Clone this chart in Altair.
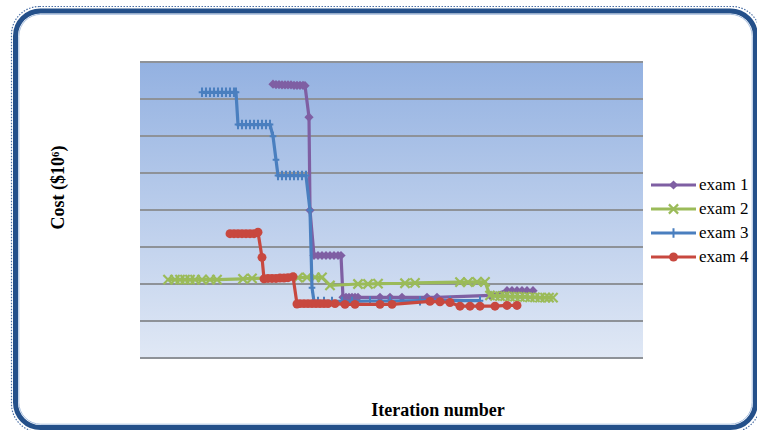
import altair as alt
import pandas as pd

# Cost (in $10^6) against iteration number for four exam runs
exam1_iter = [66.5, 68, 69.5, 71, 72.5, 74, 75.5, 77, 78.5, 80, 81.5, 82.5,
              84.5, 85,
              87, 89, 91, 93, 95, 97, 99, 100.5,
              101.5, 103, 104.5, 106, 107.5, 109, 120, 125, 131, 143.5, 148.5,
              175,
              183.5, 186, 188.5, 191, 193.5, 196.5]
exam1_cost = [7.40, 7.39, 7.39, 7.38, 7.38, 7.38, 7.38, 7.37, 7.37, 7.37, 7.37, 7.36,
              6.51, 3.99,
              2.77, 2.77, 2.77, 2.77, 2.77, 2.77, 2.77, 2.77,
              1.64, 1.64, 1.64, 1.64, 1.64, 1.64, 1.64, 1.64, 1.64, 1.64, 1.64,
              1.69,
              1.82, 1.82, 1.82, 1.82, 1.82, 1.82]

exam2_iter = [14, 17.5, 20, 22.5, 25, 27.5, 31, 35, 38.5,
              51.5, 56,
              79, 83.5, 87.5, 91,
              95,
              109, 114, 119,
              132.5, 137.5,
              160, 164, 168.5, 172.5,
              175,
              177.5, 180, 182.5, 185, 187.5, 190, 192.5, 195, 197.5, 200, 202.5, 204.5, 206.5]
exam2_cost = [2.12, 2.12, 2.12, 2.12, 2.12, 2.12, 2.12, 2.12, 2.12,
              2.14, 2.15,
              2.17, 2.18, 2.18, 2.18,
              1.96,
              2.00, 2.00, 2.01,
              2.02, 2.03,
              2.05, 2.05, 2.06, 2.06,
              1.69,
              1.68, 1.67, 1.67, 1.66, 1.66, 1.65, 1.65, 1.64, 1.64, 1.63, 1.63, 1.63, 1.63]

exam3_iter = [31, 33, 35, 37, 39, 41, 43, 45, 47, 48,
              49, 51, 53, 55, 57, 59, 61, 63, 65,
              66.5, 68,
              69, 71, 73, 75, 77, 79, 81, 83,
              85, 86, 87,
              89, 92, 96, 101, 106, 115, 125, 140, 155, 170]
exam3_cost = [7.18, 7.18, 7.18, 7.18, 7.18, 7.18, 7.18, 7.18, 7.18, 7.18,
              6.31, 6.31, 6.31, 6.31, 6.31, 6.31, 6.31, 6.31, 6.31,
              5.99, 5.36,
              4.93, 4.93, 4.93, 4.93, 4.93, 4.93, 4.93, 4.93,
              3.99, 1.90, 1.53,
              1.53, 1.53, 1.53, 1.53, 1.53, 1.54, 1.54, 1.55, 1.55, 1.55]

exam4_iter = [45, 47, 49, 51, 53, 55, 57, 59,
              61,
              62, 64, 66, 68, 70, 72, 74, 76.5,
              78.5, 80, 82, 84, 86, 88, 90, 92, 94, 97.5,
              102.5, 107.5, 120, 126,
              145, 150, 155, 160, 165, 170, 177.5, 183.5, 188.5]
exam4_cost = [3.36, 3.36, 3.36, 3.36, 3.36, 3.36, 3.36, 3.40,
              2.72,
              2.14, 2.15, 2.15, 2.15, 2.16, 2.16, 2.17, 2.20,
              1.46, 1.47, 1.47, 1.47, 1.47, 1.47, 1.47, 1.47, 1.47, 1.47,
              1.45, 1.45, 1.45, 1.45,
              1.53, 1.52, 1.50, 1.40, 1.40, 1.40, 1.40, 1.42, 1.42]

series_names = ["exam 1", "exam 2", "exam 3", "exam 4"]
series_colors = ["#7F5FA3", "#9BBB59", "#4A7FBF", "#C8483F"]
grid_values = [0, 1, 2, 3, 4, 5, 6, 7, 8]

# marker styles: (shape, filled, size, strokeWidth)
X_PATH = "M-1,-1L1,1M-1,1L1,-1"
PLUS_PATH = "M-0.7,0H0.7M0,-1V1"
markers = [("diamond", True, 85, 1),
           (X_PATH, False, 85, 2.2),
           (PLUS_PATH, False, 90, 2.0),
           ("circle", True, 80, 1)]

W, H = 503, 296
SERIF = "Liberation Serif"

x_scale = alt.Scale(domain=[0, 251.5], nice=False, zero=False)
y_scale = alt.Scale(domain=[0, 8], nice=False, zero=False)

x_enc = alt.X("iteration:Q", scale=x_scale,
              axis=alt.Axis(title="Iteration number", labels=False, ticks=False,
                            domain=False, grid=False, titleFont=SERIF,
                            titleFontSize=18, titleFontWeight="bold",
                            titleColor="#000000", titleX=297.5, titleY=57,
                            titleAlign="center", titleBaseline="alphabetic"))
y_enc = alt.Y("cost:Q", scale=y_scale,
              axis=alt.Axis(title="Cost ($10⁶)", labels=False, ticks=False,
                            domain=False, grid=False, titleFont=SERIF,
                            titleFontSize=18, titleFontWeight="bold",
                            titleColor="#000000", titleX=-82, titleY=125,
                            titleAngle=270, titleAlign="center",
                            titleBaseline="middle"))

one = pd.DataFrame({"k": [0]})

# plot-area gradient background
gradient = alt.LinearGradient(
    gradient="linear",
    stops=[alt.GradientStop(color="#93B1E1", offset=0),
           alt.GradientStop(color="#E0E8F5", offset=1)],
    x1=0, x2=0, y1=0, y2=1)
background = alt.Chart(one).mark_rect(fill=gradient).encode(
    x=alt.value(0), x2=alt.value(W), y=alt.value(0), y2=alt.value(H))

# horizontal gridlines
grid = alt.Chart(pd.DataFrame({"cost": grid_values})).mark_rule(
    color="#8E9298", strokeWidth=1.8).encode(y=y_enc)

# rounded frame around the whole figure
frame_outer = alt.Chart(one).mark_rect(
    fillOpacity=0, stroke="#4A6FA5", strokeWidth=1.2, strokeDash=[1.5, 1.5],
    cornerRadius=28).encode(
    x=alt.value(11.5 - 140), x2=alt.value(760 - 140),
    y=alt.value(6.5 - 62), y2=alt.value(432 - 62))
frame = alt.Chart(one).mark_rect(
    fillOpacity=0, stroke="#24508A", strokeWidth=5, cornerRadius=25).encode(
    x=alt.value(15.5 - 140), x2=alt.value(755.5 - 140),
    y=alt.value(11 - 62), y2=alt.value(427.5 - 62))
frame_inner = alt.Chart(one).mark_rect(
    fillOpacity=0, stroke="#A9C0E0", strokeWidth=1, cornerRadius=22).encode(
    x=alt.value(18.8 - 140), x2=alt.value(752.2 - 140),
    y=alt.value(14.3 - 62), y2=alt.value(424.2 - 62))

layers = [background, grid, frame_outer, frame, frame_inner]

all_iters = [exam1_iter, exam2_iter, exam3_iter, exam4_iter]
all_costs = [exam1_cost, exam2_cost, exam3_cost, exam4_cost]

# legend geometry (plot-area pixel coordinates)
LEG_X1, LEG_X2, LEG_TX = 511, 556, 559
LEG_Y0, LEG_GAP = 123, 24

for i, name in enumerate(series_names):
    color = series_colors[i]
    shape, filled, size, sw = markers[i]
    df = pd.DataFrame({"iteration": all_iters[i], "cost": all_costs[i],
                       "idx": list(range(len(all_iters[i])))})
    line = alt.Chart(df).mark_line(color=color, strokeWidth=3.2).encode(
        x=x_enc, y=y_enc, order="idx:Q")
    pts = alt.Chart(df).mark_point(
        shape=shape, filled=filled, color=color, size=size, strokeWidth=sw,
        opacity=1).encode(x=x_enc, y=y_enc)
    layers += [line, pts]

for i, name in enumerate(series_names):
    color = series_colors[i]
    shape, filled, size, sw = markers[i]
    ly = LEG_Y0 + i * LEG_GAP
    lab = pd.DataFrame({"label": [name]})
    leg_line = alt.Chart(lab).mark_rule(color=color, strokeWidth=3.2).encode(
        x=alt.value(LEG_X1), x2=alt.value(LEG_X2), y=alt.value(ly))
    leg_pt = alt.Chart(lab).mark_point(
        shape=shape, filled=filled, color=color, size=size, strokeWidth=sw,
        opacity=1).encode(x=alt.value((LEG_X1 + LEG_X2) / 2), y=alt.value(ly))
    leg_txt = alt.Chart(lab).mark_text(
        font=SERIF, fontSize=17, align="left", baseline="middle",
        color="#000000").encode(x=alt.value(LEG_TX), y=alt.value(ly),
                                text="label:N")
    layers += [leg_line, leg_pt, leg_txt]

chart = alt.layer(*layers).properties(
    width=W, height=H,
    autosize=alt.AutoSizeParams(type="none"),
    padding={"left": 140, "top": 62, "right": 114, "bottom": 72},
    background="#FFFFFF",
).configure_view(stroke="transparent")

chart.save("out.html", embed_options={"renderer": "svg", "actions": False})
